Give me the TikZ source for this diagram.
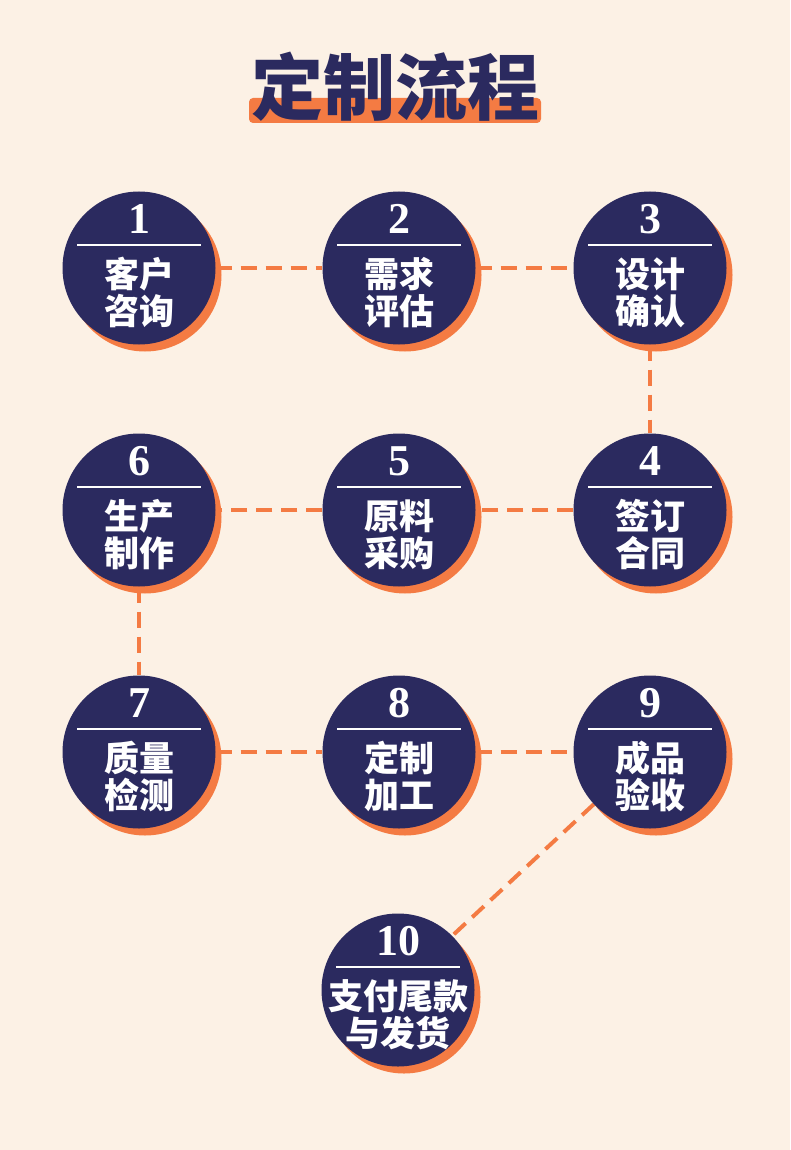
\documentclass[tikz,border=0pt]{standalone}
\usepackage{fontspec}
\setmainfont{Liberation Serif}
\newfontfamily\cjk{Noto Sans CJK SC}
\usepackage{tikz}
\usetikzlibrary{calc,shadows}
\definecolor{paper}{HTML}{FCF1E5}
\definecolor{navy}{HTML}{2B2A5F}
\definecolor{tang}{HTML}{F47B43}
\pgfdeclarelayer{bg}
\pgfdeclarelayer{links}
\pgfsetlayers{bg,links,main}
\tikzset{
  disc/.style={circle,fill=navy,minimum size=153pt,inner sep=0pt,
               drop shadow={shadow xshift=6pt,shadow yshift=-7pt,fill=tang,opacity=1}}, % 深蓝圆 + 橙色投影
  num/.style={font=\bfseries\fontsize{44}{44}\selectfont,text=white,inner sep=0pt},       % 序号
  word/.style={font=\cjk\bfseries\fontsize{35}{35}\selectfont,text=white,inner sep=0pt},  % 步骤名
  bar/.style={white,line width=2.5pt},                                                    % 序号下横线
  link/.style={tang,line width=4pt,dash pattern=on 16pt off 9pt}                          % 虚线连接
}
% 一个步骤：序号, 圆心, 第一行, 第二行
\newcommand{\flowstep}[4]{%
  \node[disc] (s#1) at (#2) {};
  \node[num] (n#1) at ($(s#1)+(0,-49)$) {#1};
  \draw[bar] ($(s#1)+(-62,-23)$) -- ($(s#1)+(62,-23)$);
  \node[word] (a#1) at ($(s#1)+(0,6)$) {#3};
  \node[word] (b#1) at ($(s#1)+(0,43)$) {#4};
}

\begin{document}
\begin{tikzpicture}[x=1pt,y=-1pt]
  \begin{pgfonlayer}{bg}
    \fill[paper] (0,0) rectangle (790,1150);
  \end{pgfonlayer}
  \fill[tang,rounded corners=4pt] (249,98) rectangle (541,123);
  \node[font=\cjk\bfseries\fontsize{72}{72}\selectfont,text=navy,inner sep=0pt] (title) at (395,87) {定制流程};

  \flowstep{1}{139,268}{客户}{咨询}
  \flowstep{2}{399,268}{需求}{评估}
  \flowstep{3}{650,268}{设计}{确认}
  \flowstep{4}{650,510}{签订}{合同}
  \flowstep{5}{399,510}{原料}{采购}
  \flowstep{6}{139,510}{生产}{制作}
  \flowstep{7}{139,752}{质量}{检测}
  \flowstep{8}{399,752}{定制}{加工}
  \flowstep{9}{650,752}{成品}{验收}
  \flowstep{10}{398,990}{支付尾款}{与发货}

  \begin{pgfonlayer}{links}
    \draw[link] (s1) -- (s2);
    \draw[link] (s2) -- (s3);
    \draw[link] (s3) -- (s4);
    \draw[link] (s4) -- (s5);
    \draw[link] (s5) -- (s6);
    \draw[link] (s6) -- (s7);
    \draw[link] (s7) -- (s8);
    \draw[link] (s8) -- (s9);
    \draw[link] (s9) -- (s10.north east);
  \end{pgfonlayer}
\end{tikzpicture}
\end{document}
